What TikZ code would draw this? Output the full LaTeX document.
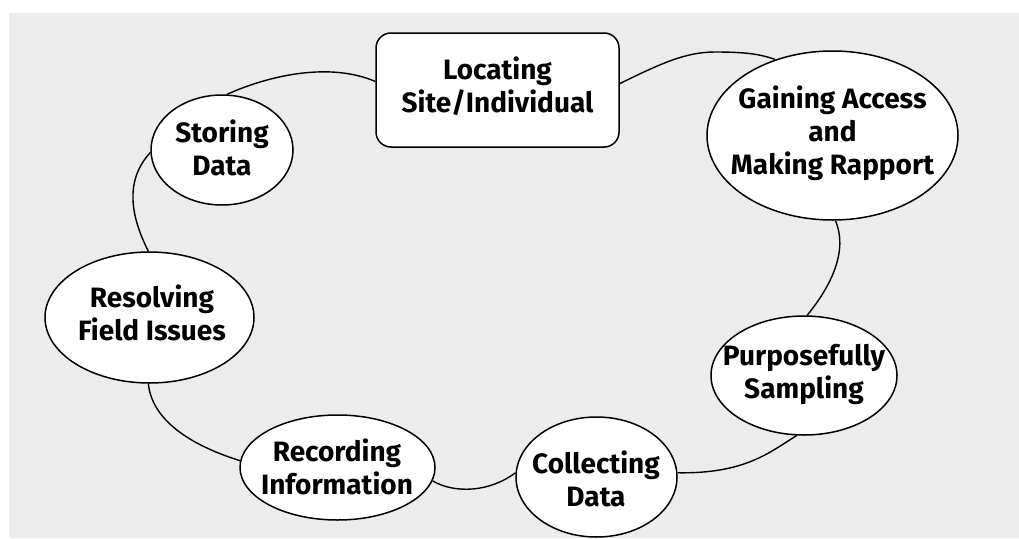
\documentclass[tikz,border=0pt]{standalone}
\usepackage{fontspec}
\setmainfont{Fira Sans}
\usetikzlibrary{shapes.geometric}
\definecolor{bgray}{HTML}{ECECEC}
\tikzset{
  stage/.style={ellipse, draw=black, fill=white, line width=1.5pt, inner sep=0pt},
  boxstage/.style={rectangle, rounded corners=15pt, draw=black, fill=white, line width=1.5pt, inner sep=0pt},
  txt/.style={align=center, inner sep=0pt, font=\fontsize{28}{33}\selectfont\bfseries},
  link/.style={draw=black, line width=1.4pt}
}
\begin{document}
\begin{tikzpicture}[x=1pt,y=-1pt]
\useasboundingbox (0,0) rectangle (1019,538);
\fill[white] (0,0) rectangle (1019,538);
\fill[bgray] (9,13) rectangle (1019,538);

\node[boxstage, minimum width=243pt, minimum height=114pt] (loc) at (497.5,90) {};
\node[stage, minimum width=142pt, minimum height=110pt] (store) at (222,150) {};
\node[stage, minimum width=251pt, minimum height=169pt] (gain) at (832.5,135.5) {};
\node[stage, minimum width=209pt, minimum height=131pt] (res) at (149.5,317.5) {};
\node[stage, minimum width=195pt, minimum height=105pt] (rec) at (337.5,467.5) {};
\node[stage, minimum width=186pt, minimum height=119pt] (purp) at (804,375.5) {};
\node[stage, minimum width=161pt, minimum height=120pt] (coll) at (596.5,477) {};

\draw[link] (loc.176) .. controls (330,62) and (270,75) .. (store.85);
\draw[link] (loc.3) .. controls (660,64) and (685,52) .. (715,52) .. controls (745,52) and (760,54) .. (gain.127);
\draw[link] (gain.272) .. controls (848,250) and (832,285) .. (purp.87);
\draw[link] (purp.263) .. controls (770,452) and (745,474) .. (coll.3);
\draw[link] (coll.177) .. controls (490,492) and (455,494) .. (rec.352);
\draw[link] (rec.176) .. controls (190,445) and (152,420) .. (res.269);
\draw[link] (res.91) .. controls (130,215) and (125,180) .. (store.182);

\node[txt] (loc-t) at (497.5,86) {\fontsize{28}{40}\selectfont Locating\\Site/Individual};
\node[txt] (store-t) at (222,148) {Storing\\Data};
\node[txt] (gain-t) at (832.5,133) {Gaining Access\\and\\Making Rapport};
\node[txt] (res-t) at (152,313) {Resolving\\Field Issues};
\node[txt] (rec-t) at (337,467) {Recording\\Information};
\node[txt] (purp-t) at (804,374) {Purposefully\\Sampling};
\node[txt] (coll-t) at (596,479) {Collecting\\Data};
\end{tikzpicture}
\end{document}
